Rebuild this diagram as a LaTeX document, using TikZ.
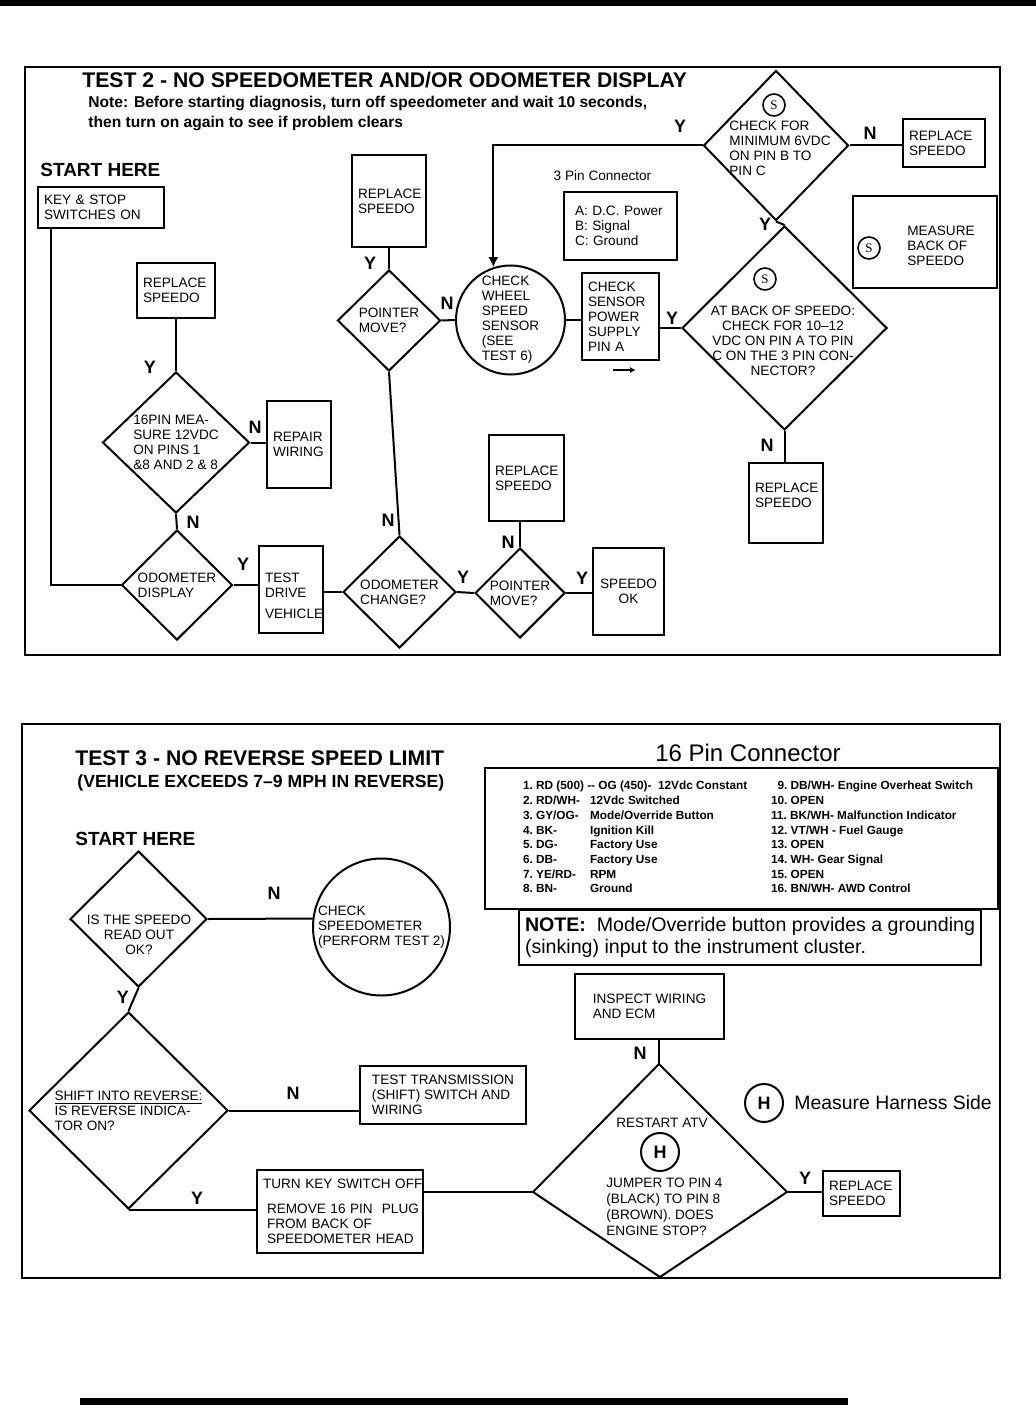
\documentclass[tikz,border=0pt]{standalone}
\usepackage{fontspec}
\setmainfont{Liberation Sans}
\newfontfamily\serifS{Liberation Serif}
\usetikzlibrary{
    positioning,      % relative placement
    arrows.meta,      % arrow tips
    shapes.geometric  % diamonds
}
\newcommand{\boxfont}{\fontsize{6.8}{7.5}\selectfont\hyphenpenalty=10000\relax}
\newcommand{\ynfont}{\bfseries\fontsize{9}{9}\selectfont}

\begin{document}
\begin{tikzpicture}[
        x=0.5pt, y=-0.5pt,
        box/.style={
            rectangle,
            draw=black,
            line width=1pt,
            align=left,
            inner xsep=3pt,
            inner ysep=0pt,
            font=\boxfont
        },
        dia/.style={
            diamond,
            draw=black,
            line width=1pt,
            inner sep=0pt,
            align=left,
            font=\boxfont
        },
        ring/.style={
            circle,
            draw=black,
            line width=1pt,
            inner sep=0pt,
            align=left,
            font=\boxfont
        },
        txt/.style={inner sep=0pt, align=left, font=\boxfont},
        yn/.style={inner sep=0pt, font=\ynfont},
        smark/.style={circle, draw=black, line width=0.8pt, inner sep=0pt,
            minimum size=11pt, font=\serifS\fontsize{6.5}{6.5}\selectfont},
        hmark/.style={circle, draw=black, line width=1pt, inner sep=0pt,
            minimum size=19pt, font=\bfseries\fontsize{9}{9}\selectfont},
        line/.style={line width=1pt},
        arrow/.style={line width=1pt, -{Latex[length=5pt, width=5pt]}},
        flow/.style={line width=0.8pt, -{Latex[length=3pt, width=3pt]}}
    ]
    \useasboundingbox (0,0) rectangle (1036,1428);

    % page rules
    \fill (0,0) rectangle (1036,6);
    \fill (80,1398) rectangle (848,1405);

    % ================= TEST 2 =================
    \draw[line] (25,67) rectangle (1000,655);
    \node[anchor=base west, inner sep=0pt, font=\bfseries\fontsize{10.6}{12}\selectfont]
        (title2) at (82,87.5) {TEST 2 - NO SPEEDOMETER AND/OR ODOMETER DISPLAY};
    \node[anchor=base west, inner sep=0pt, align=left, font=\bfseries\fontsize{7.8}{10}\selectfont]
        (note2) at (88,127.5) {Note: Before starting diagnosis, turn off speedometer and wait 10 seconds,\\then turn on again to see if problem clears};
    \node[anchor=base west, inner sep=0pt, font=\bfseries\fontsize{9.5}{10}\selectfont]
        (start2) at (40,177) {START HERE};

    % left column
    \node[box, text width=57pt, minimum height=20.5pt] (keyon) at (101,207.5) {KEY \& STOP\\SWITCHES ON};
    \node[box, text width=33pt, minimum height=27.5pt] (repl1) at (176,290.5) {REPLACE\\SPEEDO};
    \node[dia, minimum width=73.5pt, minimum height=70.5pt] (pin16) at (176,442.5) {16PIN MEA-\\SURE 12VDC\\ON PINS 1\\\&8 AND 2 \& 8};
    \node[box, text width=26pt, minimum height=43.5pt] (repair) at (299,444.5) {REPAIR\\WIRING};
    \node[dia, minimum width=55.5pt, minimum height=55pt] (odo) at (177,585) {ODOMETER\\DISPLAY};
    \node[box, text width=26pt, minimum height=43.5pt] (drive) at (291,589.5) {\rule{0pt}{10.9pt}TEST\\DRIVE\\[3pt]VEHICLE};

    % middle
    \node[box, text width=31pt, minimum height=46pt] (repl2) at (389,201) {REPLACE\\SPEEDO};
    \node[dia, minimum width=51.5pt, minimum height=50.5pt] (pm1) at (389,320.5) {POINTER\\MOVE?};
    \node[ring, minimum size=54.5pt] (cws) at (510.5,320) {CHECK\\WHEEL\\SPEED\\SENSOR\\(SEE\\TEST 6)};
    \node[dia, minimum width=56.5pt, minimum height=56pt] (odc) at (399.5,592) {ODOMETER\\CHANGE?};
    \node[dia, minimum width=45pt, minimum height=45pt] (pm2) at (520,593) {POINTER\\MOVE?};
    \node[box, text width=31.5pt, minimum height=43pt] (repl3) at (526.5,478) {REPLACE\\SPEEDO};
    \node[box, text width=29.5pt, minimum height=43.5pt, align=center] (spdok) at (628.5,591.5) {SPEEDO\\OK};
    \node[box, text width=32.5pt, minimum height=43.5pt] (sensor) at (620.5,316.5) {CHECK\\SENSOR\\POWER\\SUPPLY\\PIN A};
    \coordinate (flow-a) at (613,370);
    \coordinate (flow-b) at (636,370);
    \node[box, inner xsep=5.5pt, text width=45.5pt, minimum height=34pt] (pins3) at (620.5,226) {A: D.C. Power\\B: Signal\\C: Ground};
    \node[txt, above=5pt of pins3, xshift=-9pt] (pins3-head) {3 Pin Connector};

    % right column
    \node[dia, minimum width=72.5pt, minimum height=75pt] (chkmin) at (776,145.5) {};
    \node[smark] (s-min) at (774,105) {S};
    \node[txt, anchor=west] (chkmin-t) at (729,148.5) {CHECK FOR\\MINIMUM 6VDC\\ON PIN B TO\\PIN C};
    \node[box, text width=35pt, minimum height=24pt] (repl4) at (944,143) {REPLACE\\SPEEDO};
    \node[dia, minimum width=102.5pt, minimum height=102pt] (atback) at (784.5,328) {};
    \node[smark] (s-back) at (765,279) {S};
    \node[txt, align=center] (atback-t) at (783,341) {AT BACK OF SPEEDO:\\CHECK FOR 10--12\\VDC ON PIN A TO PIN\\C ON THE 3 PIN CON-\\NECTOR?};
    \node[box, text width=31pt, minimum height=40pt] (repl5) at (786,503) {REPLACE\\SPEEDO\rule[-8pt]{0pt}{0pt}};
    \node[box, minimum width=72pt, minimum height=46pt] (measure) at (925,242) {};
    \node[smark] (s-meas) at (869,248) {S};
    \node[txt, anchor=west] (measure-t) at (907,246) {MEASURE\\BACK OF\\SPEEDO};

    % yes / no labels
    \node[yn] (y-min) at (680,126) {Y};
    \node[yn] (n-min) at (870,133) {N};
    \node[yn] (y-back) at (765,224) {Y};
    \node[yn] (n-back) at (767,445) {N};
    \node[yn] (y-sensor) at (672,318) {Y};
    \node[yn] (n-pm1) at (447,303) {N};
    \node[yn] (y-pm1) at (370,263) {Y};
    \node[yn] (y-pin16) at (150,367) {Y};
    \node[yn] (n-pin16) at (255,427) {N};
    \node[yn] (n-pin16b) at (193,522) {N};
    \node[yn] (y-odo) at (243,564) {Y};
    \node[yn] (n-odc) at (388,520) {N};
    \node[yn] (y-odc) at (463,577) {Y};
    \node[yn] (n-pm2) at (508,542) {N};
    \node[yn] (y-pm2) at (582,578) {Y};

    % connectors
    \draw[line] ([xshift=7pt]keyon.south west) |- (odo.west);
    \draw[line] (repl1.south) -- (pin16.north);
    \draw[line] (pin16.east) -- (pin16.east -| repair.west);
    \draw[line] (pin16.south) -- (odo.north);
    \draw[line] (odo.east) -- (odo.east -| drive.west);
    \draw[line] (drive.east |- odc.west) -- (odc.west);
    \draw[line] (odc.north) -- (pm1.south);
    \draw[line] (odc.east) -- (pm2.west);
    \draw[line] (pm2.north) -- (pm2.north |- repl3.south);
    \draw[line] (pm2.east) -- (pm2.east -| spdok.west);
    \draw[line] (repl2.south) -- (pm1.north);
    \draw[line] (pm1.east) -- (cws.west);
    \draw[line] (cws.east) -- (cws.east -| sensor.west);
    \draw[line] (sensor.east |- atback.west) -- (atback.west);
    \draw[arrow] (chkmin.west) -| (cws.108);
    \draw[line] (chkmin.east) -- (chkmin.east -| repl4.west);
    \draw[line] (chkmin.south) -- (atback.north);
    \draw[line] (atback.south) -- (atback.south |- repl5.north);
    \draw[flow] (flow-a) -- (flow-b);

    % ================= TEST 3 =================
    \draw[line] (22,724) rectangle (1000,1278);
    \node[anchor=base west, inner sep=0pt, font=\bfseries\fontsize{10.6}{12}\selectfont]
        (title3) at (75,765.5) {TEST 3 - NO REVERSE SPEED LIMIT};
    \node[anchor=base west, inner sep=0pt, font=\bfseries\fontsize{8.8}{10}\selectfont]
        (sub3) at (77,787.5) {(VEHICLE EXCEEDS 7--9 MPH IN REVERSE)};
    \node[anchor=base west, inner sep=0pt, font=\bfseries\fontsize{9.5}{10}\selectfont]
        (start3) at (75,845) {START HERE};

    \node[dia, minimum width=68.5pt, minimum height=68pt] (speedok) at (138.5,919) {};
    \node[txt, align=center] (speedok-t) at (139,935) {IS THE SPEEDO\\READ OUT\\OK?};
    \node[ring, minimum size=68.5pt] (chkspd) at (381.5,927) {CHECK\\SPEEDOMETER\\(PERFORM TEST 2)};
    \node[dia, minimum width=99.5pt, minimum height=98.5pt] (revind) at (128.5,1110.5) {\underline{SHIFT INTO REVERSE:}\\IS REVERSE INDICA-\\TOR ON?};
    \node[box, minimum width=83pt, minimum height=29pt] (trans) at (443,1095) {TEST TRANSMISSION\\(SHIFT) SWITCH AND\\WIRING};
    \node[box, text width=77pt, minimum height=41.5pt] (turnkey) at (340,1211.5) {\mbox{TURN KEY SWITCH OFF}\\[5pt]\hspace*{2pt}\mbox{REMOVE 16 PIN\ \ PLUG}\\\hspace*{2pt}FROM BACK OF\\\hspace*{2pt}\mbox{SPEEDOMETER HEAD}};

    % restart check (kite)
    \coordinate (rs-t) at (659,1064);
    \coordinate (rs-l) at (533,1192);
    \coordinate (rs-r) at (787,1192);
    \coordinate (rs-b) at (660,1277);
    \draw[line] (rs-t) -- (rs-r) -- (rs-b) -- (rs-l) -- cycle;
    \node[txt] (rs-t1) at (662,1123) {RESTART ATV};
    \node[hmark] (h-in) at (660,1152) {H};
    \node[txt, anchor=west, font=\fontsize{6.8}{8}\selectfont] (rs-t2) at (606,1206.5) {JUMPER TO PIN 4\\(BLACK) TO PIN 8\\(BROWN). DOES\\ENGINE STOP?};
    \node[box, minimum width=74.5pt, minimum height=32.5pt] (inspect) at (649.5,1006.5) {INSPECT WIRING\\AND ECM};
    \node[box, text width=32.5pt, minimum height=22.5pt] (repl6) at (861.5,1193.5) {REPLACE\\SPEEDO};
    \node[hmark] (h-leg) at (764,1103) {H};
    \node[right=5pt of h-leg, inner sep=0pt, font=\fontsize{9.7}{10}\selectfont] (h-legend) {Measure Harness Side};

    % 16 pin connector
    \node[inner sep=0pt, font=\fontsize{12}{12}\selectfont] (pinhead) at (748,753) {16 Pin Connector};
    \node[box, anchor=north west, minimum width=256.5pt, minimum height=70.5pt, inner sep=0pt,
        font=\bfseries\fontsize{5.9}{7.35}\selectfont\frenchspacing] (pintab) at (484,767) {\hspace*{6.5pt}\begin{tabular}{@{}p{33.5pt}@{}p{90.5pt}@{}l@{}}
        \multicolumn{2}{@{}p{124pt}@{}}{1. RD (500) -{}- OG (450)-\ \ 12Vdc Constant} & \hphantom{1}9. DB/WH-\ Engine Overheat Switch\\
        2. RD/WH- & 12Vdc Switched & 10. OPEN\\
        3. GY/OG- & Mode/Override Button & 11. BK/WH- Malfunction Indicator\\
        4. BK- & Ignition Kill & 12. VT/WH - Fuel Gauge\\
        5. DG- & Factory Use & 13. OPEN\\
        6. DB- & Factory Use & 14. WH- Gear Signal\\
        7. YE/RD- & RPM & 15. OPEN\\
        8. BN- & Ground & 16. BN/WH- AWD Control
        \end{tabular}};
    \node[box, minimum width=230pt, minimum height=27.5pt, font=\fontsize{9.8}{11}\selectfont] (note3) at (750,937.5) {\textbf{NOTE:}\ \ Mode/Override button provides a grounding\\(sinking) input to the instrument cluster.};

    % yes / no labels
    \node[yn] (n-speed) at (274,893) {N};
    \node[yn] (y-speed) at (123,997) {Y};
    \node[yn] (n-rev) at (293,1093) {N};
    \node[yn] (y-rev) at (197,1198) {Y};
    \node[yn] (n-rs) at (640,1053) {N};
    \node[yn] (y-rs) at (805,1178) {Y};

    % connectors
    \draw[line] (speedok.east) -- (chkspd.173);
    \draw[line] (speedok.south) -- (revind.north);
    \draw[line] (revind.east) -- (revind.east -| trans.west);
    \draw[line] (revind.south) -- (revind.south -| turnkey.west);
    \draw[line] (turnkey.east |- rs-l) -- (rs-l);
    \draw[line] (rs-t) -- (rs-t |- inspect.south);
    \draw[line] (rs-r) -- (rs-r -| repl6.west);
\end{tikzpicture}
\end{document}
